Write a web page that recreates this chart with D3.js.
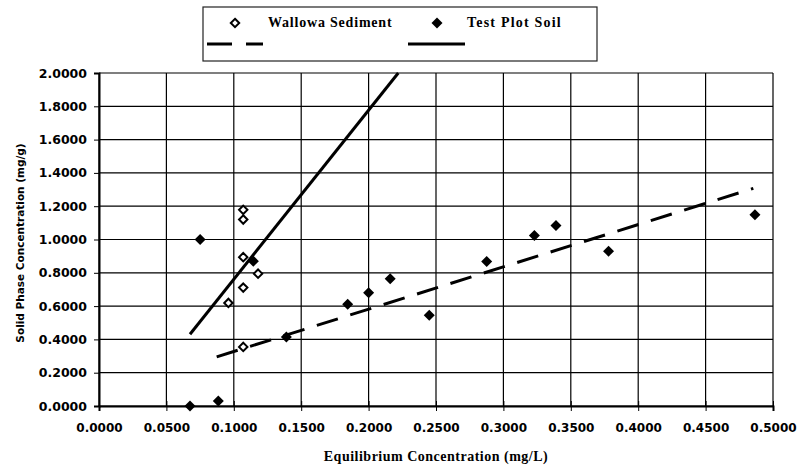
<!DOCTYPE html>
<html><head><meta charset="utf-8">
<script src="https://cdn.jsdelivr.net/npm/d3@7"></script>
<style>body{margin:0;background:#fff}svg{display:block}</style>
</head><body>
<svg id="c" width="799" height="468"></svg>
<script>
// ---- data ----
const xTicks = [0,0.05,0.1,0.15,0.2,0.25,0.3,0.35,0.4,0.45,0.5];
const yTicks = [0,0.2,0.4,0.6,0.8,1.0,1.2,1.4,1.6,1.8,2.0];
const wallowaX = [0.107,0.107,0.107,0.118,0.107,0.096,0.107];
const wallowaY = [1.178,1.12,0.894,0.795,0.711,0.619,0.355];
const testX = [0.0675,0.0885,0.075,0.1145,0.139,0.1845,0.2,0.216,0.245,0.2876,0.323,0.339,0.378,0.4866];
const testY = [0.0,0.03,1.0,0.87,0.415,0.611,0.68,0.765,0.545,0.868,1.024,1.084,0.93,1.148];
const solidLineX = [0.0675,0.222];
const solidLineY = [0.431,2.0];
const dashLineX = [0.0873,0.4854];
const dashLineY = [0.295,1.307];
const seriesNames = ["Wallowa Sediment","Test Plot Soil"];
const xTitle = "Equilibrium Concentration (mg/L)";
const yTitle = "Solid Phase Concentration (mg/g)";

const svg = d3.select("#c");
const L=99,R=773,T=73,B=406;
const x = d3.scaleLinear().domain([0,0.5]).range([L,R]);
const y = d3.scaleLinear().domain([0,2]).range([B,T]);

// grid
const g = svg.append("g");
g.selectAll("line.h").data(yTicks).join("line")
  .attr("x1",L).attr("x2",R).attr("y1",d=>y(d)).attr("y2",d=>y(d))
  .attr("stroke","#000").attr("stroke-width",1.2);
g.selectAll("line.v").data(xTicks).join("line")
  .attr("y1",T).attr("y2",B).attr("x1",d=>x(d)).attr("x2",d=>x(d))
  .attr("stroke","#000").attr("stroke-width",1.2);

// axes
const yAx = svg.append("g").attr("transform",`translate(${L},0)`)
  .call(d3.axisLeft(y).tickValues(yTicks).tickFormat(d3.format(".4f")).tickSize(5).tickPadding(7));
yAx.select(".domain").attr("stroke-width",2);
yAx.selectAll("text").attr("font-family","'DejaVu Sans',sans-serif").attr("font-weight","bold").attr("font-size",12.5).attr("fill","#000");

const xAx = svg.append("g").attr("transform",`translate(0,${B})`)
  .call(d3.axisBottom(x).tickValues(xTicks).tickFormat(d3.format(".4f")).tickSize(5));
xAx.select(".domain").attr("stroke-width",2);
xAx.selectAll(".tick line").attr("y1",-5);
xAx.selectAll("text").attr("y",26).attr("dy",null)
  .attr("font-family","'DejaVu Sans',sans-serif").attr("font-weight","bold").attr("font-size",12).attr("fill","#000");

// titles
svg.append("text").attr("x",(L+R)/2).attr("y",461).attr("text-anchor","middle")
  .attr("font-family","'Liberation Serif',serif").attr("font-weight","bold").attr("font-size",14)
  .attr("letter-spacing",0.5).text(xTitle);
svg.append("text").attr("transform",`translate(24,243) rotate(-90)`).attr("text-anchor","middle")
  .attr("font-family","'DejaVu Sans',sans-serif").attr("font-weight","bold").attr("font-size",10.5).text(yTitle);

// fit lines
const line = d3.line().x(d=>x(d[0])).y(d=>y(d[1]));
svg.append("path").datum(d3.zip(dashLineX,dashLineY)).attr("d",line)
  .attr("stroke","#000").attr("stroke-width",3).attr("fill","none").attr("stroke-dasharray","22,13");
svg.append("path").datum(d3.zip(solidLineX,solidLineY)).attr("d",line)
  .attr("stroke","#000").attr("stroke-width",3).attr("fill","none");

// markers
function diamondPath(s){ return `M0,${-s}L${s},0L0,${s}L${-s},0Z`; }
svg.append("g").selectAll("path").data(d3.zip(wallowaX,wallowaY)).join("path")
  .attr("transform",d=>`translate(${x(d[0])},${y(d[1])})`).attr("d",diamondPath(4.2))
  .attr("fill","#fff").attr("stroke","#000").attr("stroke-width",2);
svg.append("g").selectAll("path").data(d3.zip(testX,testY)).join("path")
  .attr("transform",d=>`translate(${x(d[0])},${y(d[1])})`).attr("d",diamondPath(5.5))
  .attr("fill","#000");

// legend
const lg = svg.append("g");
lg.append("rect").attr("x",203).attr("y",7).attr("width",394).attr("height",54)
  .attr("fill","#fff").attr("stroke","#222").attr("stroke-width",1.2);
lg.append("path").attr("transform","translate(235,23)").attr("d",diamondPath(4.2))
  .attr("fill","#fff").attr("stroke","#000").attr("stroke-width",2);
lg.append("path").attr("transform","translate(437,23)").attr("d",diamondPath(5.5)).attr("fill","#000");
lg.selectAll("text").data(seriesNames).join("text")
  .attr("x",(d,i)=>i?467:268).attr("y",27)
  .attr("font-family","'Liberation Serif',serif").attr("font-weight","bold").attr("font-size",14)
  .attr("letter-spacing",(d,i)=>i?1.2:0.8).text(d=>d);
lg.append("line").attr("x1",207).attr("x2",263).attr("y1",44).attr("y2",44)
  .attr("stroke","#000").attr("stroke-width",3).attr("stroke-dasharray","25,14");
lg.append("line").attr("x1",408).attr("x2",465).attr("y1",44).attr("y2",44)
  .attr("stroke","#000").attr("stroke-width",3);
</script>
</body></html>
